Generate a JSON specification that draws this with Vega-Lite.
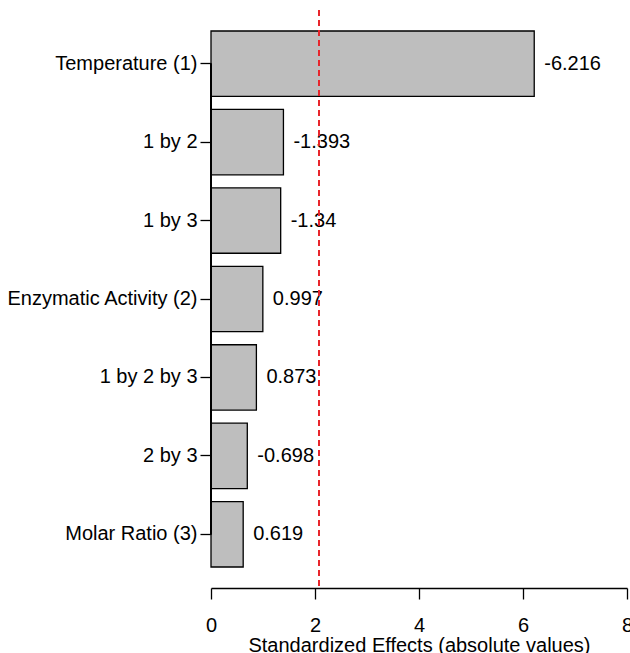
{
  "$schema": "https://vega.github.io/schema/vega-lite/v6.json",
  "autosize": {"type": "none"},
  "padding": {"left": 211, "top": 10, "right": 3, "bottom": 65},
  "width": 416,
  "height": 578,
  "background": "white",
  "config": {
    "view": {"stroke": null},
    "font": "Liberation Sans",
    "axis": {"grid": false, "labelColor": "black", "titleColor": "black", "domainColor": "black", "tickColor": "black", "labelFont": "Liberation Sans", "titleFont": "Liberation Sans", "titleFontWeight": "normal", "domainWidth": 1.3, "tickWidth": 1.3}
  },
  "data": {
    "values": [
      {"term": "Temperature (1)", "effect": 6.216, "label": "-6.216"},
      {"term": "1 by 2", "effect": 1.393, "label": "-1.393"},
      {"term": "1 by 3", "effect": 1.34, "label": "-1.34"},
      {"term": "Enzymatic Activity (2)", "effect": 0.997, "label": "0.997"},
      {"term": "1 by 2 by 3", "effect": 0.873, "label": "0.873"},
      {"term": "2 by 3", "effect": 0.698, "label": "-0.698"},
      {"term": "Molar Ratio (3)", "effect": 0.619, "label": "0.619"}
    ]
  },
  "encoding": {
    "y": {
      "field": "term", "type": "nominal", "sort": null,
      "scale": {"paddingInner": 0.167, "paddingOuter": 0.268},
      "axis": {"title": null, "domain": false, "ticks": true, "tickSize": 11, "labelPadding": 3, "labelFontSize": 20, "labelLimit": 300}
    }
  },
  "layer": [
    {
      "mark": {"type": "bar", "fill": "#bebebe", "stroke": "black", "strokeWidth": 1.3},
      "encoding": {
        "x": {
          "field": "effect", "type": "quantitative",
          "scale": {"domain": [0, 8], "nice": false, "zero": true},
          "axis": {"values": [0, 2, 4, 6, 8], "tickSize": 11, "labelPadding": 16, "labelFontSize": 20, "labelFlush": false, "labelBaseline": "top", "title": "Standardized Effects (absolute values)", "titleFontSize": 20, "titlePadding": 0}
        }
      }
    },
    {
      "mark": {"type": "text", "align": "left", "baseline": "middle", "dx": 10, "fontSize": 20, "color": "black"},
      "encoding": {
        "x": {"field": "effect", "type": "quantitative"},
        "text": {"field": "label"}
      }
    },
    {
      "mark": {"type": "rule", "color": "black", "strokeWidth": 1.3},
      "encoding": {
        "x": {"datum": 0, "type": "quantitative"},
        "y": {"datum": "Temperature (1)"},
        "y2": {"datum": "Molar Ratio (3)"}
      }
    },
    {
      "mark": {"type": "rule", "color": "#e8262b", "strokeWidth": 1.4, "strokeDash": [6, 4]},
      "encoding": {
        "x": {"datum": 2.08, "type": "quantitative"},
        "y": null
      }
    }
  ]
}
